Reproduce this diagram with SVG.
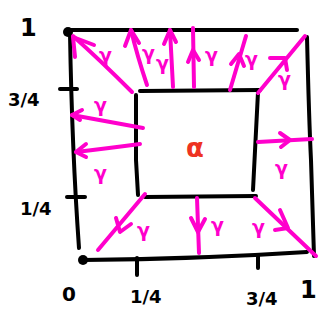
<svg xmlns="http://www.w3.org/2000/svg" width="320" height="322" viewBox="0 0 320 322">
<style>
.k{fill:none;stroke:#000;stroke-width:4;stroke-linecap:round;stroke-linejoin:round}
.m{fill:none;stroke:#ff00cc;stroke-width:4;stroke-linecap:round;stroke-linejoin:round}
.lab{font-family:"DejaVu Sans",sans-serif;font-weight:bold;fill:#000}
.g{font-family:"DejaVu Sans",sans-serif;font-weight:bold;fill:#ff00cc;font-size:19px}
</style>
<rect width="320" height="322" fill="#fff"/>
<g id="outer">
<path class="k" d="M68,30 L297,30"/>
<path class="k" d="M307,37 Q309,120 311,160 Q313,220 314,256"/>
<path class="k" d="M83,260 Q200,259 307,252"/>
<path class="k" d="M70,34 Q72,150 79,248"/>
<circle cx="68" cy="32" r="5" fill="#000"/>
<circle cx="83" cy="260" r="5" fill="#000"/>
</g>
<g id="inner">
<path class="k" d="M136,95 L136,160 L138,195"/>
<path class="k" d="M140,91 L260,90"/>
<path class="k" d="M258,92 Q255,150 253,190"/>
<path class="k" d="M145,197 L256,196"/>
</g>
<g id="ticks">
<path class="k" d="M60,89 L77,89"/>
<path class="k" d="M67,197 L85,197"/>
<path class="k" d="M137,258 L137,275"/>
<path class="k" d="M258,255 L258,268"/>
</g>
<g id="labels">
<text class="lab" x="20" y="36" font-size="24">1</text>
<text class="lab" x="8" y="106" font-size="18">3/4</text>
<text class="lab" x="20" y="215" font-size="18">1/4</text>
<text class="lab" x="62" y="301" font-size="20">0</text>
<text class="lab" x="130" y="303" font-size="18">1/4</text>
<text class="lab" x="246" y="305" font-size="18">3/4</text>
<text class="lab" x="300" y="298" font-size="24">1</text>
<text x="186" y="157" font-family="DejaVu Sans,sans-serif" font-weight="bold" font-size="26" fill="#ee3322">α</text>
</g>
<g id="connectors">
<path class="m" d="M132,92 Q100,60 73,36"/>
<path class="m" d="M75,57 L73,37 L94,45"/>
<path class="m" d="M147,85 Q137,55 131,30"/>
<path class="m" d="M125,46 L131,30 L139,43"/>
<path class="m" d="M173,87 L170,30"/>
<path class="m" d="M164,44 L170,30 L176,42"/>
<path class="m" d="M194,87 L193,28"/>
<path class="m" d="M188,62 L193,50 L199,60"/>
<path class="m" d="M230,90 L246,36"/>
<path class="m" d="M231,64 L239,54 L244,66"/>
<path class="m" d="M258,93 L305,36"/>
<path class="m" d="M270,58 L285,58 L287,70"/>
<path class="m" d="M258,142 L312,139"/>
<path class="m" d="M280,133 L290,140 L281,147"/>
<path class="m" d="M255,198 L316,256"/>
<path class="m" d="M280,210 L288,228 L275,230"/>
<path class="m" d="M197,198 L199,253"/>
<path class="m" d="M191,218 L198,232 L205,219"/>
<path class="m" d="M145,194 L98,250"/>
<path class="m" d="M116,218 L120,232 L131,224"/>
<path class="m" d="M143,128 Q110,122 72,115"/>
<path class="m" d="M82,110 L72,115 L80,120"/>
<path class="m" d="M140,144 Q110,148 76,152"/>
<path class="m" d="M86,144 L76,152 L86,157"/>
</g>
<g id="gammas">
<text class="g" x="99" y="62">γ</text>
<text class="g" x="142" y="60">γ</text>
<text class="g" x="156" y="70" font-size="14">γ</text>
<text class="g" x="205" y="62">γ</text>
<text class="g" x="245" y="66">γ</text>
<text class="g" x="278" y="86">γ</text>
<text class="g" x="275" y="175">γ</text>
<text class="g" x="211" y="232">γ</text>
<text class="g" x="252" y="234">γ</text>
<text class="g" x="137" y="237">γ</text>
<text class="g" x="94" y="112">γ</text>
<text class="g" x="94" y="180">γ</text>
</g>
</svg>
